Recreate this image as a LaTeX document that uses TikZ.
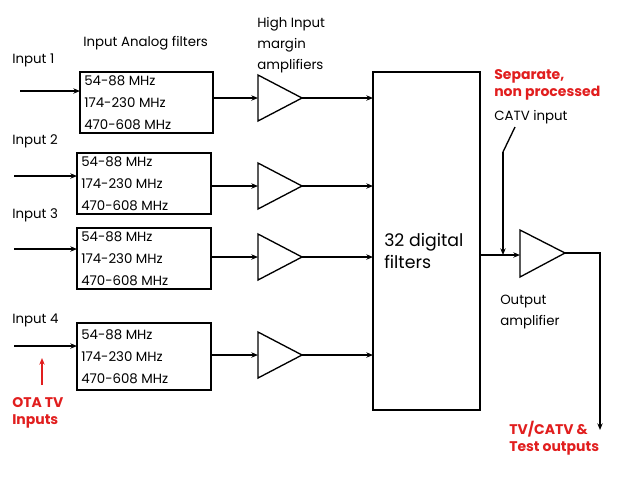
\documentclass[tikz,border=0pt]{standalone}
\usepackage{fontspec}
\setmainfont{Poppins}
\usetikzlibrary{arrows.meta}
\definecolor{myred}{RGB}{225,30,30}
\begin{document}
\begin{tikzpicture}[x=0.75pt,y=-0.75pt,
  box/.style={draw,line width=1.2pt},
  amp/.style={draw,line width=1pt},
  conn/.style={line width=1.1pt,-{Stealth[length=5pt,width=4pt]}},
  lbl/.style={font=\fontsize{10}{14}\selectfont,anchor=west,inner sep=0},
  red/.style={font=\fontsize{10.5}{12.5}\selectfont\bfseries,text=myred,anchor=west,inner sep=0,align=left}]
\useasboundingbox (0,0) rectangle (640,480);
% big box
\draw[box] (373,72) rectangle (480,410);
\node[lbl,font=\fontsize{13}{17}\selectfont,align=left] (dig) at (384,251) {32 digital\\filters};
\coordinate (B1) at (373,98);\coordinate (B2) at (373,186);\coordinate (B3) at (373,257);\coordinate (B4) at (373,355);
% filter boxes
\foreach \i/\xa/\ya/\xb/\yb/\my in {1/80/72/213/133/98,2/77/153/211/214/186,3/77/228/211/289/257,4/77/323/211/390/355}{
  \draw[box] (\xa,\ya) rectangle (\xb,\yb);
  \coordinate (F\i) at (\xb,\my);
  \node[lbl,align=left,font=\fontsize{10}{16.5}\selectfont] (ft\i) at (\xa+4,{(\ya+\yb)/2}) {54-88 MHz\\174-230 MHz\\470-608 MHz};
  \draw[amp] (258,\my-23) -- (302,\my) -- (258,\my+23) -- cycle;
  \coordinate (Ai\i) at (258,\my);\coordinate (Ao\i) at (302,\my);
  \draw[conn] (F\i) -- (Ai\i);
  \draw[conn] (Ao\i) -- (B\i);
}
% inputs
\coordinate (I1) at (20,91);\coordinate (J1) at (80,91);
\coordinate (I2) at (14,176);\coordinate (J2) at (77,176);
\coordinate (I3) at (14,249);\coordinate (J3) at (77,249);
\coordinate (I4) at (14,346);\coordinate (J4) at (77,346);
\foreach \i in {1,...,4}{\draw[conn] (I\i) -- (J\i);}
\node[lbl] (in1) at (12,60) {Input 1};
\node[lbl] (in2) at (12,141) {Input 2};
\node[lbl] (in3) at (12,215) {Input 3};
\node[lbl] (in4) at (12,320) {Input 4};
\node[lbl] (taf) at (83,43) {Input Analog filters};
\node[lbl,align=left,font=\fontsize{10}{16}\selectfont] (hia) at (257,45) {High Input\\margin\\amplifiers};
% output amp
\draw[amp] (520,230) -- (565,253) -- (520,277) -- cycle;
\coordinate (OAi) at (520,255);\coordinate (OAo) at (565,253);
\coordinate (Bout) at (480,255);
\draw[conn] (Bout) -- (OAi);
\coordinate (C0) at (515,127);\coordinate (C1) at (503,152);\coordinate (C2) at (503,255);
\draw[line width=1pt] (C0) -- (C1);
\draw[conn] (C1) -- (C2);
\coordinate (Oc) at (600,253);\coordinate (Oe) at (600,430);
\draw[conn] (OAo) -- (Oc) -- (Oe);
\node[lbl,align=left,font=\fontsize{10}{16}\selectfont] (oa) at (500,312) {Output\\amplifier};
\node[lbl] (catv) at (494,117) {CATV input};
\node[red] (sep) at (494,85) {Separate,\\non processed};
\node[red] (tvo) at (509,438) {TV/CATV \&\\Test outputs};
\node[red] (ota) at (12,413) {OTA TV\\Inputs};
\coordinate (R0) at (42,385);\coordinate (R1) at (42,358);
\draw[line width=1pt,myred,-{Stealth[length=5pt,width=4pt]}] (R0) -- (R1);
\end{tikzpicture}
\end{document}
